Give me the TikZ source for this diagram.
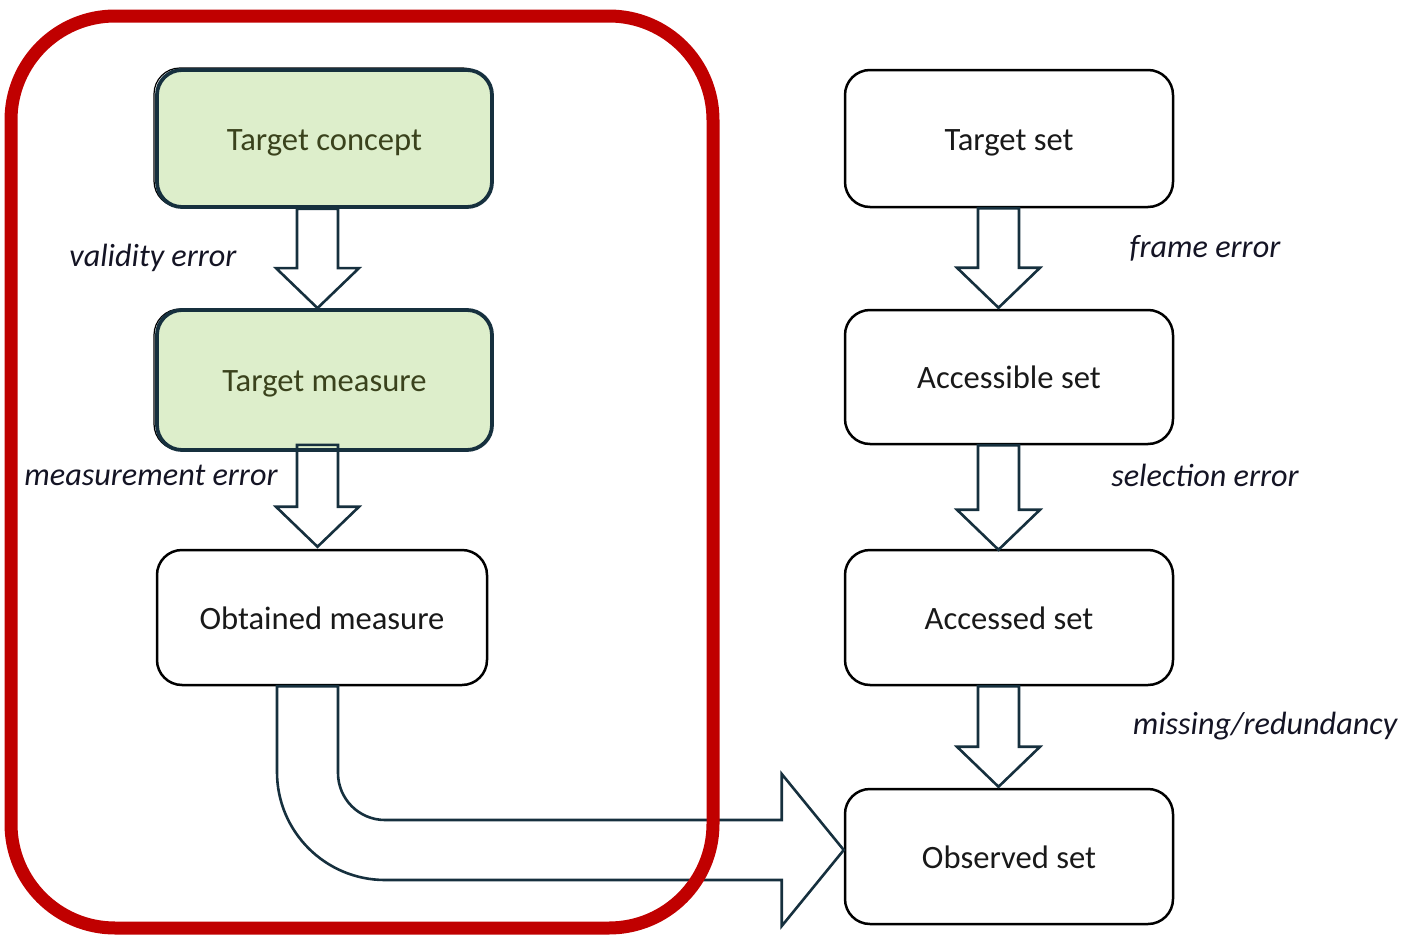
\documentclass[tikz,border=0pt]{standalone}
\usepackage{fontspec}
\setmainfont{Carlito}
\usetikzlibrary{calc}
\definecolor{frameRed}{RGB}{192,0,0}
\definecolor{leafGreen}{RGB}{221,238,203}
\definecolor{inkNavy}{RGB}{22,48,62}
\definecolor{oliveText}{RGB}{58,66,28}
\definecolor{labelInk}{RGB}{20,20,36}
\tikzset{
  setbox/.style={draw=black, line width=1.25pt, rounded corners=12.5pt, fill=white,
    font=\fontsize{16.3}{19}\selectfont, text=black!90, text height=11.5pt, text depth=0pt},
  greenbox/.style={setbox, draw=inkNavy, line width=1.9pt, fill=leafGreen, text=oliveText},
  errlabel/.style={font=\fontsize{16.1}{19}\selectfont\itshape, text=labelInk},
  barrow/.style={draw=inkNavy, line width=1.3pt, line join=miter},
  redframe/.style={draw=frameRed, line width=6.5pt, rounded corners=52pt}
}
% vertical block arrow from coordinate #1 (top of shaft) to coordinate #2 (tip)
\newcommand{\downblock}[2]{%
  \draw[barrow] ($(#1)+(-20.5,0)$) -- ($(#2)+(-20.5,-40)$) -- ($(#2)+(-41.5,-40)$)
    -- (#2) -- ($(#2)+(41.5,-40)$) -- ($(#2)+(20.5,-40)$) -- ($(#1)+(20.5,0)$) -- cycle;}
\begin{document}
\begin{tikzpicture}[x=0.5pt,y=-0.5pt]
\useasboundingbox (0,0) rectangle (1404,937);

% left column: concept -> measure -> obtained
\draw[black, line width=0.6pt, rounded corners=13pt] (154,68) rectangle (489,207);
\node[greenbox, minimum width=167.5pt, minimum height=68.5pt] (tc) at (324.5,138.5) {Target concept};
\draw[black, line width=0.6pt, rounded corners=13pt] (154,309) rectangle (489,450);
\node[greenbox, minimum width=167.5pt, minimum height=70pt] (tm) at (324.5,380) {Target measure};
\node[setbox, minimum width=165pt, minimum height=67.5pt] (om) at (322,617.5) {Obtained measure};

% right column: the sets
\node[setbox, minimum width=164pt, minimum height=68.5pt] (ts) at (1009,138.5) {Target set};
\node[setbox, minimum width=164pt, minimum height=67pt] (as) at (1009,377) {Accessible set};
\node[setbox, minimum width=164pt, minimum height=67.5pt] (acs) at (1009,617.5) {Accessed set};
\node[setbox, minimum width=164pt, minimum height=67.5pt] (os) at (1009,856.5) {Observed set};

% block arrows between the boxes
\coordinate (l1s) at ($(tc.south)+(-7,0)$);
\coordinate (l1e) at ($(tm.north)+(-7,0)$);
\coordinate (l2s) at ($(tm.south)+(-7,-7)$);
\coordinate (l2e) at ($(om.north)+(-4.5,-2)$);
\coordinate (r1s) at ($(ts.south)+(-10.5,0)$);
\coordinate (r1e) at ($(as.north)+(-10.5,-1)$);
\coordinate (r2s) at ($(as.south)+(-10.5,0)$);
\coordinate (r2e) at ($(acs.north)+(-10.5,1)$);
\coordinate (r3s) at ($(acs.south)+(-10.5,0)$);
\coordinate (r3e) at ($(os.north)+(-10.5,-1)$);
\downblock{l1s}{l1e}
\downblock{l2s}{l2e}
\downblock{r1s}{r1e}
\downblock{r2s}{r2e}
\downblock{r3s}{r3e}

% bent block arrow from the obtained measure to the observed set
\coordinate (cs) at ($(om.south)+(-14.5,0)$);
\coordinate (ce) at ($(os.west)+(0,-6.5)$);
\coordinate (cc) at ($(cs |- ce)+(77.5,-78)$);
\draw[barrow] ($(cs)+(-30.5,0)$) -- ($(cc)+(-108,0)$)
  arc[start angle=180, end angle=90, radius=108]
  -- ($(ce)+(-62,30)$) -- ($(ce)+(-62,76)$) -- (ce) -- ($(ce)+(-62,-76)$)
  -- ($(ce)+(-62,-30)$) -- ($(cc)+(0,48)$)
  arc[start angle=90, end angle=180, radius=47]
  -- ($(cs)+(30.5,0)$) -- cycle;

% error labels
\node[errlabel] (lv) at (153,258) {validity error};
\node[errlabel] (lm) at (151,475) {measurement error};
\node[errlabel] (lf) at (1205,248) {frame error};
\node[errlabel] (ls) at (1205,475) {selection error};
\node[errlabel] (lr) at (1265,726) {missing/redundancy};

% red frame around the measurement side
\draw[redframe] (11,16) rectangle (713,928);
\end{tikzpicture}
\end{document}
